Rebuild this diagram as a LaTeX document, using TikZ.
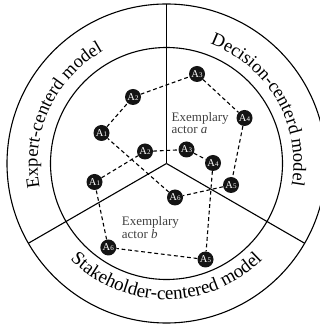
\documentclass[tikz,border=0pt]{standalone}
\usepackage{fontspec}
\setmainfont{Liberation Serif}
\usetikzlibrary{decorations.text}
\newcommand\actorlbl[1]{A\kern0.2pt{\fontsize{7}{7}\selectfont #1}}
\begin{document}
\begin{tikzpicture}[x=1pt,y=1pt,
  actor/.style={circle,fill=black!92,text=white,inner sep=0pt,minimum size=16pt,font=\fontsize{10.5}{10.5}\selectfont},
  link/.style={dash pattern=on 3.8pt off 2.8pt,line width=1.1pt},
  ring/.style={line width=1.1pt},
  lab/.style={text=black!75,align=left,font=\fontsize{13}{11.5}\selectfont,inner sep=0pt,anchor=base west},
  arctext/.style 2 args={decorate,decoration={text along path,text align=center,text={|\fontsize{#1}{#1}\selectfont|#2}}}]
\useasboundingbox (0,0) rectangle (320,326);
\coordinate (c) at (166.5,162.5);
\draw[ring] (c) circle (159.5);
\draw[ring] (c) circle (116);
\draw[ring] (c) -- ++(90:159.5);
\draw[ring] (c) -- ++(210:159.5);
\draw[ring] (c) -- ++(330:159.5);
% ring texts
\path[shift={(c)},arctext={18.5}{Expert-centerd model}] (215:129) arc (215:95:129);
\path[shift={(c)},arctext={18.5}{Decision-centerd model}] (90:127) arc (90:-30:127);
\path[shift={(c)},arctext={19}{Stakeholder-centered model}] (200:136) arc (200:340:136);
% actor a
\node[actor] (a1) at (101.5,193) {\actorlbl{1}};
\node[actor] (a2) at (133,229) {\actorlbl{2}};
\node[actor] (a3) at (197,252) {\actorlbl{3}};
\node[actor] (a4) at (244.5,208) {\actorlbl{4}};
\node[actor] (a5) at (231,141) {\actorlbl{5}};
\node[actor] (a6) at (175,128.5) {\actorlbl{6}};
% actor b
\node[actor] (b1) at (94.5,144) {\actorlbl{1}};
\node[actor] (b2) at (145,174.5) {\actorlbl{2}};
\node[actor] (b3) at (186.5,176.5) {\actorlbl{3}};
\node[actor] (b4) at (213,163) {\actorlbl{4}};
\node[actor] (b5) at (205.5,66.5) {\actorlbl{5}};
\node[actor] (b6) at (108.3,78.5) {\actorlbl{6}};
\draw[link] (a1) -- (a2) -- (a3) -- (a4) -- (a5) -- (a6) -- (a1);
\draw[link] (b1) -- (b2) -- (b3) -- (b4) -- (b5) -- (b6) -- (b1);
\node[lab] (la) at (171.5,192.5) {Exemplary\\actor \textit{a}};
\node[lab] (lb) at (121.7,87.7) {Exemplary\\actor \textit{b}};
\end{tikzpicture}
\end{document}
